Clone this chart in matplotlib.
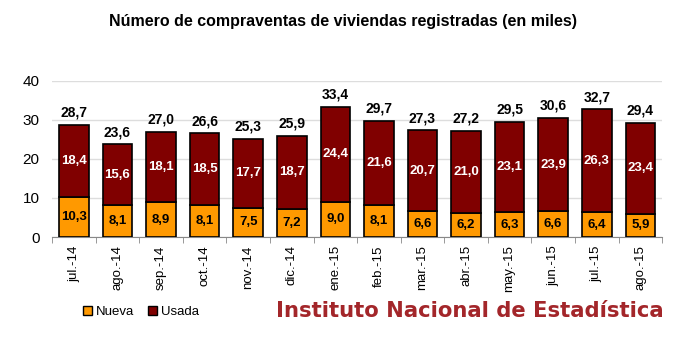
import numpy as np
import matplotlib.pyplot as plt
from matplotlib.patches import Patch

plt.rcParams["font.family"] = ["Liberation Sans", "DejaVu Sans"]

months = ["jul.-14", "ago.-14", "sep.-14", "oct.-14", "nov.-14", "dic.-14", "ene.-15",
          "feb.-15", "mar.-15", "abr.-15", "may.-15", "jun.-15", "jul.-15", "ago.-15"]
nueva = [10.3, 8.1, 8.9, 8.1, 7.5, 7.2, 9.0, 8.1, 6.6, 6.2, 6.3, 6.6, 6.4, 5.9]
usada = [18.4, 15.6, 18.1, 18.5, 17.7, 18.7, 24.4, 21.6, 20.7, 21.0, 23.1, 23.9, 26.3, 23.4]
total = [28.7, 23.6, 27.0, 26.6, 25.3, 25.9, 33.4, 29.7, 27.3, 27.2, 29.5, 30.6, 32.7, 29.4]

c_nueva = "#FF9900"
c_usada = "#800000"


def fmt(v):
    return f"{v:.1f}".replace(".", ",")


fig = plt.figure(figsize=(6.77, 3.47), dpi=100)
ax = fig.add_axes([0.077, 0.317, 0.901, 0.45])
x = np.arange(len(months))

ax.bar(x, nueva, width=0.68, color=c_nueva, edgecolor="black", linewidth=1.2, zorder=3)
ax.bar(x, usada, width=0.68, bottom=nueva, color=c_usada, edgecolor="black", linewidth=1.2, zorder=3)

for i in range(len(months)):
    ax.text(x[i], nueva[i] / 2, fmt(nueva[i]), ha="center", va="center",
            fontsize=9.5, fontweight="bold", color="black", zorder=4)
    ax.text(x[i], nueva[i] + usada[i] / 2, fmt(usada[i]), ha="center", va="center",
            fontsize=9.5, fontweight="bold", color="white", zorder=4)
    ax.text(x[i], total[i] + 1.3, fmt(total[i]), ha="center", va="bottom",
            fontsize=10, fontweight="bold", color="black", zorder=4)

ax.set_ylim(0, 40)
ax.set_xlim(-0.5, len(months) - 0.5)
ax.set_yticks([0, 10, 20, 30, 40])
ax.tick_params(axis="y", length=0, labelsize=11, pad=9)
ax.set_xticks(x)
ax.set_xticklabels(months, rotation=90, fontsize=9.5)
ax.tick_params(axis="x", length=0, pad=6)
ax.set_xticks(np.arange(-0.5, len(months)), minor=True)
ax.tick_params(axis="x", which="minor", length=4, color="#888888")
ax.grid(axis="y", color="#dddddd", linewidth=1, zorder=0)
for s in ["top", "right", "left"]:
    ax.spines[s].set_visible(False)
ax.spines["bottom"].set_color("#888888")

fig.text(0.507, 0.937, "Número de compraventas de viviendas registradas (en miles)",
         ha="center", va="center", fontsize=11.5, fontweight="semibold")

handles = [Patch(facecolor=c_nueva, edgecolor="black", label="Nueva"),
           Patch(facecolor=c_usada, edgecolor="black", label="Usada")]
fig.legend(handles=handles, loc="center left", bbox_to_anchor=(0.105, 0.10), ncol=2,
           frameon=False, fontsize=9.5, handlelength=0.7, handleheight=0.7,
           handletextpad=0.3, columnspacing=1.0)

fig.text(0.98, 0.105, "Instituto Nacional de Estadística", ha="right", va="center",
         fontsize=15.2, fontweight="bold", color="#A3262A", family="DejaVu Sans")

fig.savefig("out.png", dpi=100)
